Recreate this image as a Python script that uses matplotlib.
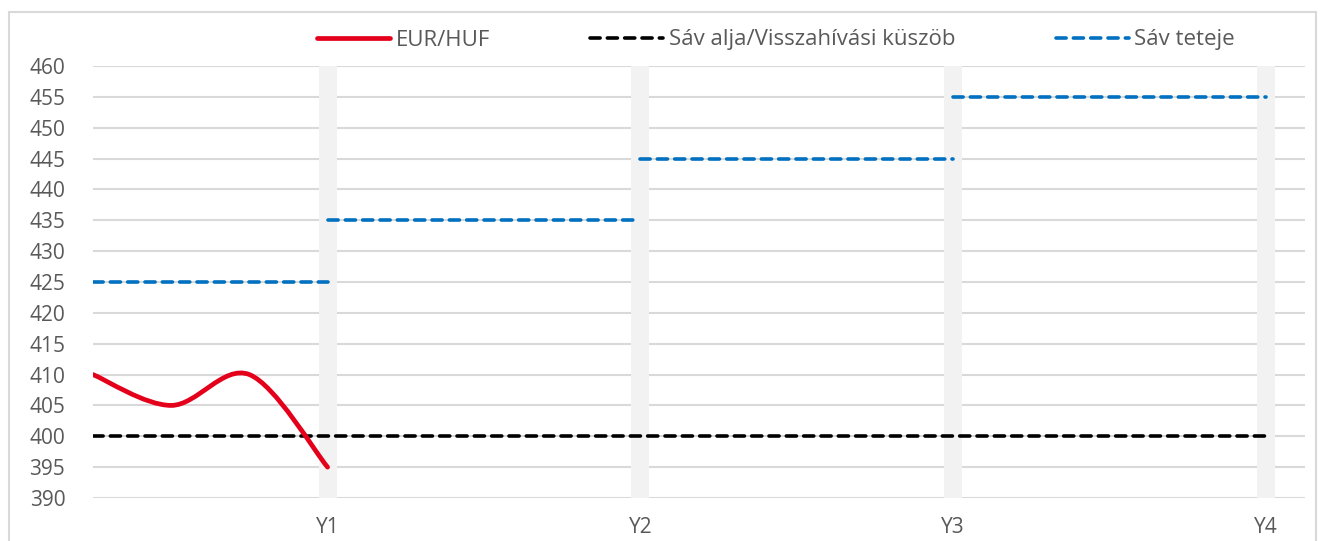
import numpy as np
import matplotlib.pyplot as plt
from matplotlib.path import Path
from matplotlib.patches import PathPatch, Rectangle
from matplotlib.lines import Line2D

# quarters on the x axis (1..16), year labels at every 4th quarter
year_pos = [4, 8, 12, 16]
year_labels = ['Y1', 'Y2', 'Y3', 'Y4']

# EUR/HUF, quarterly
fx_q = [1, 2, 3, 4]
fx_vals = [410, 405, 410, 395]

# band floor / call threshold
floor_q = [1, 16]
floor_vals = [400, 400]

# band top, one flat segment per year
top_start = [1, 4, 8, 12]
top_end = [4, 8, 12, 16]
top_vals = [425, 435, 445, 455]

RED = '#e4001b'
BLUE = '#0070c0'
GRID = '#d9d9d9'
TXT = '#595959'

plt.rcParams['font.family'] = ['Open Sans', 'DejaVu Sans']


def smooth_path(x, y):
    # excel-like smoothed line: cubic bezier through the points
    x = np.asarray(x, float); y = np.asarray(y, float)
    n = len(x)
    verts = [(x[0], y[0])]
    codes = [Path.MOVETO]
    for i in range(n - 1):
        p0 = np.array([x[max(i - 1, 0)], y[max(i - 1, 0)]])
        p1 = np.array([x[i], y[i]])
        p2 = np.array([x[i + 1], y[i + 1]])
        p3 = np.array([x[min(i + 2, n - 1)], y[min(i + 2, n - 1)]])
        c1 = p1 + (p2 - p0) / 6
        c2 = p2 - (p3 - p1) / 6
        verts += [tuple(c1), tuple(c2), tuple(p2)]
        codes += [Path.CURVE4] * 3
    return Path(verts, codes)


fig = plt.figure(figsize=(13.26, 5.41), dpi=100)
ax = fig.add_axes([93 / 1326, 1 - 498 / 541, (1305 - 93) / 1326, (498 - 66) / 541])

# outer frame
fig.patches.append(Rectangle((9 / 1326, -0.1), (1316 - 9) / 1326, 1.1 - 12 / 541,
                             transform=fig.transFigure, fill=False,
                             edgecolor=GRID, linewidth=1.5))

ax.set_xlim(1, 16.5)
ax.set_ylim(390, 460)
ax.set_yticks(np.arange(390, 461, 5))
ax.set_xticks(year_pos)
ax.set_xticklabels(year_labels)
ax.tick_params(length=0, labelsize=15, colors=TXT)
ax.tick_params(axis='y', pad=20)
ax.tick_params(axis='x', pad=14)
for s in ax.spines.values():
    s.set_visible(False)
ax.yaxis.grid(True, color=GRID, linewidth=1.5, zorder=0)
ax.set_axisbelow(True)

# grey year markers
ax.bar(year_pos, [70] * len(year_pos), bottom=390, width=0.23,
       color='#f2f2f2', zorder=1)

dash = dict(linewidth=2.6, dashes=(2.8, 2.0), dash_capstyle='round')
ax.plot(floor_q, floor_vals, color='black', zorder=3, **dash)
for xs, xe, v in zip(top_start, top_end, top_vals):
    ax.plot([xs, xe], [v, v], color=BLUE, zorder=3, **dash)

ax.add_patch(PathPatch(smooth_path(fx_q, fx_vals), facecolor='none',
                       edgecolor=RED, linewidth=3.4, capstyle='round', zorder=4))

handles = [
    Line2D([], [], color=RED, linewidth=3.4, solid_capstyle='round'),
    Line2D([], [], color='black', **dash),
    Line2D([], [], color=BLUE, **dash),
]
labels = ['EUR/HUF', 'Sáv alja/Visszahívási küszöb', 'Sáv teteje']
fig.legend(handles, labels, loc='center', bbox_to_anchor=(776 / 1326, 1 - 40 / 541),
           ncol=3, frameon=False, fontsize=16, labelcolor=TXT,
           handlelength=3.3, handletextpad=0.25, columnspacing=4.5)

fig.savefig('out.png', dpi=100)
